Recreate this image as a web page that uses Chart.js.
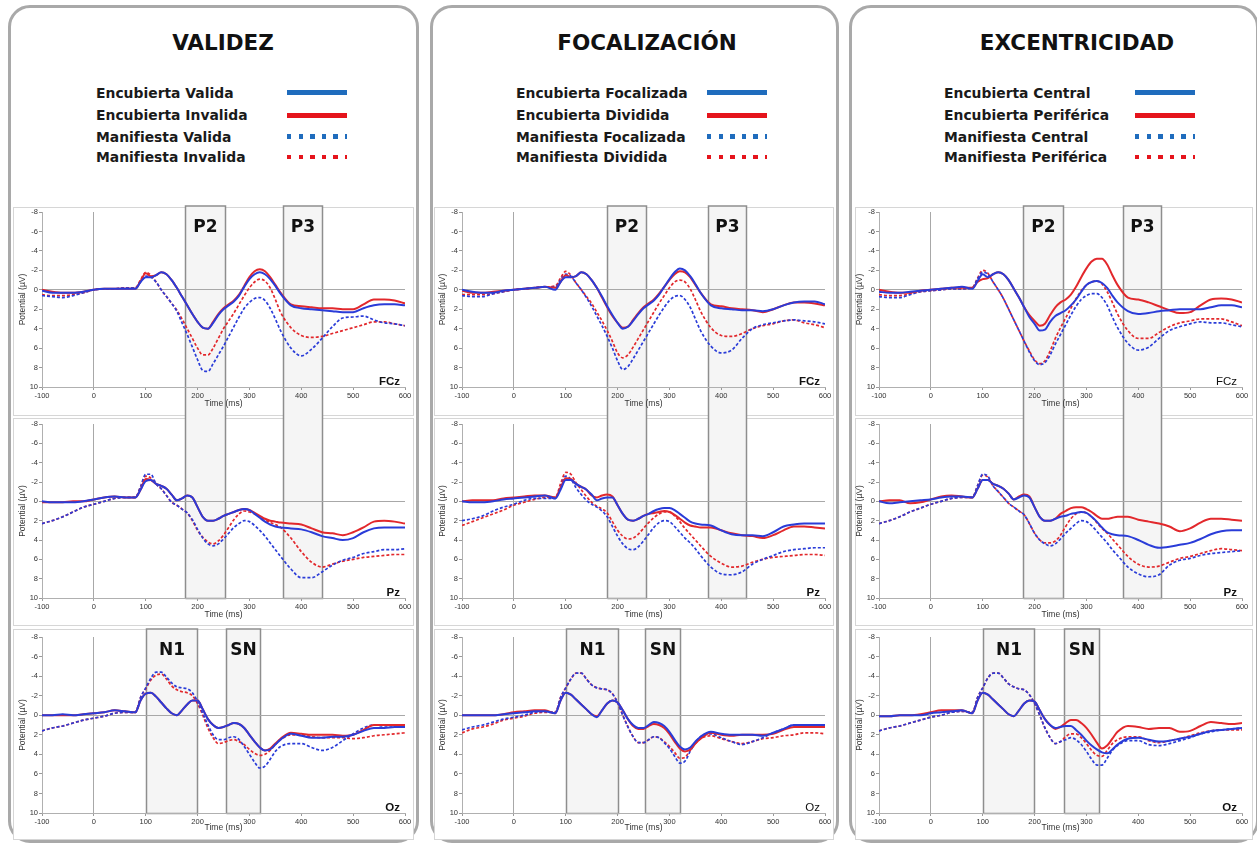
<!DOCTYPE html>
<html lang="es">
<head>
<meta charset="utf-8">
<title>ERP - Validez, Focalización, Excentricidad</title>
<script src="https://cdn.jsdelivr.net/npm/chart.js@4.4.1/dist/chart.umd.min.js"></script>
<style>
  html, body { margin: 0; padding: 0; background: #fff; }
  body { width: 1257px; height: 845px; position: relative; overflow: hidden; font-family: "DejaVu Sans", Verdana, sans-serif; }
  .frame { position: absolute; top: 5px; height: 838px; border: 3px solid #a9a9a9; border-radius: 22px; box-sizing: border-box; background: #fff; }
  .title { position: absolute; top: 28px; height: 30px; line-height: 30px; font-weight: bold; font-size: 21.5px; color: #111; transform: translateX(-50%); white-space: nowrap; }
  .leg-text { position: absolute; height: 20px; line-height: 20px; font-weight: bold; font-size: 13.9px; color: #1a1a1a; white-space: nowrap; }
  .swatch { position: absolute; width: 60px; height: 5px; }
  .box { position: absolute; border: 1px solid #d6d6d6; box-sizing: border-box; background: #fff; }
  canvas.erp { position: absolute; }
</style>
</head>
<body>
<script>
// Time axis shared by every waveform (ms)
const times = [-100,-80,-60,-40,-20,0,20,40,60,80,
  90,100,110,120,130,140,150,160,170,180,190,200,
  210,220,230,240,250,260,270,280,290,300,
  310,320,330,340,350,360,
  380,400,420,440,460,480,500,520,540,560,580,600];

const xTicks = [-100,0,100,200,300,400,500,600];
const yTicks = [-8,-6,-4,-2,0,2,4,6,8,10];

// Legend labels
const labelsValidez = ['Encubierta Valida','Encubierta Invalida','Manifiesta Valida','Manifiesta Invalida'];
const labelsFocal = ['Encubierta Focalizada','Encubierta Dividida','Manifiesta Focalizada','Manifiesta Dividida'];
const labelsExc = ['Encubierta Central','Encubierta Periférica','Manifiesta Central','Manifiesta Periférica'];

// ---------- VALIDEZ ----------
const valFCzEncV = [0.1,0.3,0.3,0.3,0.2,0.0,-0.1,-0.1,-0.1,-0.1,
  -0.8,-1.3,-1.3,-1.5,-1.8,-1.6,-1.0,-0.2,0.7,1.6,2.5,3.3,
  3.9,4.0,3.4,2.6,2.0,1.6,1.2,0.6,-0.3,-1.1,
  -1.6,-1.8,-1.6,-1.1,-0.4,0.4,
  1.6,1.9,2.0,2.1,2.2,2.3,2.3,1.9,1.6,1.5,1.5,1.6];
const valFCzEncI = [0.0,0.2,0.3,0.3,0.2,0.0,-0.1,-0.1,-0.1,-0.1,
  -0.9,-1.7,-1.4,-1.5,-1.8,-1.6,-1.0,-0.2,0.7,1.6,2.5,3.3,
  3.9,4.0,3.3,2.5,1.9,1.5,1.1,0.5,-0.4,-1.3,
  -1.9,-2.1,-1.9,-1.3,-0.5,0.3,
  1.5,1.7,1.8,1.9,1.9,2.0,2.0,1.5,1.0,1.0,1.1,1.4];
const valFCzManV = [0.6,0.7,0.8,0.6,0.3,0.0,-0.1,-0.1,-0.2,-0.2,
  -0.8,-1.4,-1.3,-0.8,0.0,0.7,1.4,2.2,3.4,4.6,5.9,7.2,
  8.3,8.4,7.6,6.7,5.8,4.8,3.8,2.8,1.9,1.3,
  0.9,0.8,1.1,1.9,3.0,4.2,
  6.0,6.8,6.1,5.0,3.8,2.9,2.8,2.7,3.1,3.4,3.5,3.7];
const valFCzManI = [0.5,0.6,0.6,0.5,0.3,0.0,-0.1,-0.1,-0.2,-0.2,
  -1.0,-1.8,-1.5,-0.8,0.0,0.7,1.4,2.1,3.0,4.0,5.0,6.0,
  6.7,6.7,6.0,5.0,4.0,3.2,2.4,1.5,0.6,-0.2,
  -0.8,-1.1,-0.9,-0.2,1.0,2.3,
  3.9,4.7,4.9,4.8,4.5,4.2,3.9,3.6,3.3,3.3,3.5,3.7];

const valPzEncV = [0.0,0.1,0.1,0.1,0.0,-0.2,-0.4,-0.5,-0.4,-0.4,
  -1.2,-2.1,-2.2,-1.8,-1.6,-1.3,-0.7,-0.1,-0.3,-0.6,-0.4,0.6,
  1.6,2.0,2.0,1.8,1.5,1.3,1.1,0.9,0.8,0.9,
  1.3,1.7,2.1,2.4,2.6,2.7,
  2.8,2.9,3.2,3.6,3.8,4.0,3.8,3.2,2.8,2.7,2.7,2.7];
const valPzEncI = [0.1,0.1,0.1,0.0,0.0,-0.2,-0.4,-0.5,-0.4,-0.4,
  -1.2,-2.3,-2.2,-1.8,-1.6,-1.3,-0.7,-0.1,-0.3,-0.6,-0.4,0.6,
  1.6,2.0,2.0,1.8,1.5,1.3,1.1,0.9,0.8,0.9,
  1.2,1.5,1.8,2.0,2.1,2.2,
  2.3,2.4,2.8,3.2,3.3,3.5,3.2,2.7,2.1,2.0,2.1,2.3];
const valPzManV = [2.3,2.0,1.6,1.1,0.6,0.3,0.0,-0.3,-0.4,-0.4,
  -1.5,-2.8,-2.8,-1.8,-1.3,-0.6,0.1,0.4,0.8,1.2,1.9,2.9,
  3.8,4.4,4.6,4.4,3.9,3.3,2.7,2.3,2.0,2.1,
  2.5,3.0,3.6,4.3,5.0,5.7,
  7.0,7.9,7.9,7.3,6.6,6.1,5.8,5.4,5.2,5.0,5.0,4.9];
const valPzManI = [2.3,2.0,1.6,1.1,0.6,0.3,0.0,-0.3,-0.4,-0.4,
  -1.5,-2.6,-2.4,-1.8,-1.3,-0.6,0.1,0.4,0.8,1.2,2.0,3.0,
  3.7,4.2,4.4,4.1,3.5,2.7,1.9,1.3,1.0,1.1,
  1.3,1.6,1.9,2.2,2.4,2.7,
  3.8,5.2,6.3,6.8,6.5,6.2,6.0,5.8,5.7,5.6,5.5,5.5];

const valOzEncV = [0.0,0.0,-0.1,0.0,-0.1,-0.2,-0.3,-0.5,-0.4,-0.3,
  -1.5,-2.2,-2.3,-1.9,-1.3,-0.7,-0.2,0.0,-0.5,-1.1,-1.5,-1.5,
  -0.6,0.4,1.0,1.3,1.2,1.0,0.8,0.9,1.3,2.0,
  2.7,3.3,3.6,3.5,3.0,2.5,
  1.9,2.1,2.3,2.3,2.2,2.2,2.0,1.6,1.3,1.3,1.2,1.2];
const valOzEncI = [0.0,0.0,0.0,0.0,-0.1,-0.2,-0.3,-0.5,-0.4,-0.3,
  -1.5,-2.2,-2.3,-1.9,-1.3,-0.7,-0.2,0.0,-0.5,-1.1,-1.5,-1.5,
  -0.6,0.4,1.0,1.3,1.2,1.0,0.8,0.9,1.3,2.0,
  2.7,3.3,3.6,3.4,2.9,2.4,
  1.8,1.9,2.0,2.0,2.0,2.1,2.0,1.5,1.0,1.0,1.0,1.0];
const valOzManV = [1.6,1.3,1.1,0.8,0.5,0.3,0.1,-0.2,-0.3,-0.3,
  -1.8,-2.8,-3.8,-4.4,-4.4,-3.9,-3.3,-2.9,-2.8,-2.7,-2.3,-1.4,
  -0.2,1.0,2.0,2.5,2.5,2.3,2.2,2.5,3.2,4.0,
  4.8,5.4,5.2,4.5,3.7,3.2,
  2.9,2.9,3.3,3.6,3.3,2.6,1.9,1.3,1.0,1.1,1.1,1.2];
const valOzManI = [1.6,1.3,1.1,0.8,0.5,0.3,0.1,-0.2,-0.3,-0.3,
  -1.8,-2.7,-3.6,-4.1,-4.2,-3.7,-3.0,-2.6,-2.4,-2.3,-2.0,-1.2,
  0.0,1.3,2.3,2.9,2.8,2.6,2.5,2.7,3.0,3.5,
  3.9,4.1,4.0,3.6,3.0,2.5,
  2.0,2.0,2.2,2.3,2.3,2.3,2.4,2.3,2.1,2.0,1.9,1.8];

// ---------- FOCALIZACIÓN ----------
const focFCzEncF = [0.0,0.2,0.3,0.3,0.1,0.0,-0.1,-0.2,-0.3,0.0,
  -0.8,-1.3,-1.3,-1.4,-1.8,-1.6,-1.0,-0.2,0.7,1.7,2.6,3.4,
  4.0,3.8,3.2,2.5,1.9,1.5,1.1,0.5,-0.3,-1.1,
  -1.8,-2.2,-2.0,-1.4,-0.6,0.3,
  1.6,1.9,2.0,2.1,2.1,2.2,2.0,1.6,1.3,1.2,1.2,1.5];
const focFCzEncD = [0.1,0.3,0.3,0.2,0.1,0.0,-0.1,-0.2,-0.3,-0.2,
  -0.8,-1.5,-1.3,-1.4,-1.8,-1.6,-1.0,-0.2,0.8,1.8,2.7,3.4,
  3.9,3.8,3.1,2.4,1.8,1.4,1.0,0.4,-0.3,-1.0,
  -1.6,-1.9,-1.8,-1.3,-0.5,0.3,
  1.5,1.7,1.9,2.0,2.1,2.3,2.0,1.6,1.3,1.3,1.4,1.6];
const focFCzManF = [0.6,0.7,0.7,0.4,0.2,0.0,-0.1,-0.2,-0.3,-0.3,
  -1.0,-1.6,-1.4,-0.7,0.0,0.8,1.7,2.7,3.7,4.8,6.0,7.3,
  8.2,7.9,7.1,6.2,5.3,4.4,3.5,2.6,1.8,1.1,
  0.7,0.6,1.0,1.8,3.0,4.2,
  5.8,6.5,6.2,5.0,4.0,3.6,3.4,3.2,3.1,3.2,3.3,3.5];
const focFCzManD = [0.5,0.5,0.5,0.4,0.2,0.0,-0.1,-0.2,-0.3,-0.4,
  -1.2,-1.9,-1.5,-0.7,0.0,0.7,1.4,2.3,3.2,4.2,5.3,6.5,
  7.0,6.7,5.9,5.0,4.1,3.2,2.3,1.4,0.6,-0.2,
  -0.8,-1.0,-0.8,-0.1,1.0,2.2,
  3.9,4.7,4.8,4.5,4.0,3.7,3.5,3.2,3.1,3.4,3.6,3.9];

const focPzEncF = [0.0,0.1,0.1,0.0,-0.2,-0.3,-0.4,-0.5,-0.6,-0.3,
  -1.2,-2.2,-2.2,-1.8,-1.5,-1.2,-0.7,-0.1,-0.3,-0.4,-0.4,0.4,
  1.3,1.9,2.0,1.8,1.5,1.3,1.0,0.8,0.7,0.7,
  0.9,1.3,1.7,2.1,2.3,2.4,
  2.5,3.0,3.4,3.5,3.5,3.6,3.2,2.6,2.4,2.3,2.3,2.3];
const focPzEncD = [0.0,-0.1,-0.1,-0.1,-0.3,-0.4,-0.5,-0.6,-0.6,-0.4,
  -1.4,-2.4,-2.3,-1.8,-1.5,-1.2,-0.6,-0.4,-0.6,-0.7,-0.5,0.4,
  1.3,1.9,2.0,1.8,1.5,1.3,1.2,1.1,1.0,1.1,
  1.4,1.8,2.2,2.5,2.6,2.7,
  2.7,3.0,3.3,3.5,3.6,3.8,3.5,3.0,2.6,2.6,2.7,2.8];
const focPzManF = [2.0,1.8,1.5,1.0,0.6,0.3,-0.1,-0.3,-0.3,-0.3,
  -1.5,-2.6,-2.3,-1.4,-0.7,-0.1,0.3,0.6,1.0,1.6,2.6,3.6,
  4.4,4.9,5.0,4.7,4.1,3.4,2.7,2.2,2.0,2.1,
  2.6,3.2,3.8,4.3,4.9,5.6,
  6.8,7.5,7.6,7.3,6.5,6.0,5.6,5.2,5.0,4.9,4.8,4.8];
const focPzManD = [2.5,2.1,1.7,1.3,0.9,0.4,0.1,-0.2,-0.4,-0.4,
  -1.8,-3.0,-2.8,-1.9,-1.2,-0.5,0.1,0.5,0.8,1.2,2.1,3.0,
  3.6,3.9,3.8,3.4,2.8,2.2,1.7,1.3,1.1,1.1,
  1.5,2.1,2.8,3.4,4.0,4.6,
  5.7,6.4,6.8,6.7,6.3,6.0,5.8,5.7,5.6,5.5,5.5,5.6];

const focOzEncF = [0.0,0.0,0.0,0.0,-0.1,-0.2,-0.3,-0.4,-0.4,-0.2,
  -1.5,-2.3,-2.1,-1.6,-1.1,-0.6,-0.1,0.2,-0.5,-1.2,-1.5,-1.3,
  -0.5,0.4,1.0,1.3,1.3,1.0,0.7,0.8,1.1,1.7,
  2.5,3.2,3.5,3.3,2.7,2.2,
  1.7,1.9,2.0,2.0,2.0,2.1,1.8,1.4,1.0,1.0,1.0,1.0];
const focOzEncD = [0.0,0.0,0.0,0.0,-0.1,-0.3,-0.4,-0.5,-0.5,-0.2,
  -1.5,-2.3,-2.1,-1.6,-1.1,-0.6,-0.1,0.1,-0.5,-1.2,-1.5,-1.3,
  -0.5,0.4,1.1,1.4,1.4,1.1,0.9,1.0,1.3,1.9,
  2.7,3.4,3.7,3.5,2.9,2.4,
  1.8,2.0,2.1,2.0,2.0,2.0,1.9,1.5,1.2,1.2,1.2,1.2];
const focOzManF = [1.5,1.2,1.0,0.7,0.4,0.2,0.0,-0.3,-0.4,-0.3,
  -1.8,-2.8,-3.7,-4.3,-4.3,-3.7,-3.1,-2.8,-2.7,-2.6,-2.2,-1.3,
  0.0,1.2,2.2,2.8,2.8,2.5,2.2,2.3,2.8,3.4,
  4.2,4.9,4.7,3.7,2.8,2.2,
  1.9,2.3,2.7,3.0,2.7,2.3,1.8,1.4,1.0,1.0,1.0,1.0];
const focOzManD = [1.8,1.4,1.2,0.9,0.5,0.3,0.1,-0.2,-0.3,-0.3,
  -1.8,-2.8,-3.7,-4.3,-4.3,-3.7,-3.1,-2.8,-2.7,-2.6,-2.2,-1.3,
  0.0,1.2,2.2,2.8,2.8,2.5,2.2,2.3,2.7,3.2,
  3.8,4.4,4.3,3.6,2.9,2.4,
  2.1,2.4,2.7,2.9,2.7,2.4,2.3,2.1,2.0,1.8,1.8,1.9];

// ---------- EXCENTRICIDAD ----------
const excFCzEncC = [0.2,0.3,0.3,0.2,0.1,0.0,-0.1,-0.2,-0.3,-0.1,
  -0.9,-1.6,-1.3,-1.6,-1.8,-1.6,-1.0,-0.1,0.8,1.8,2.8,3.5,
  4.2,4.1,3.3,2.7,2.4,2.1,1.6,1.0,0.2,-0.5,
  -0.8,-0.9,-0.7,-0.2,0.6,1.3,
  2.2,2.5,2.4,2.2,2.1,2.0,2.0,2.0,1.8,1.6,1.6,1.8];
const excFCzEncP = [0.0,0.2,0.3,0.3,0.1,0.0,-0.1,-0.2,-0.2,-0.2,
  -0.8,-1.1,-1.2,-1.6,-1.8,-1.6,-1.0,-0.1,0.8,1.8,2.6,3.2,
  3.7,3.5,2.6,1.8,1.3,1.0,0.5,-0.3,-1.3,-2.2,
  -2.9,-3.2,-3.2,-2.6,-1.5,-0.5,
  0.8,1.0,1.3,1.7,2.1,2.4,2.3,1.6,1.0,0.9,1.0,1.3];
const excFCzManC = [0.7,0.8,0.8,0.5,0.2,0.1,0.0,-0.1,-0.1,-0.2,
  -1.1,-1.8,-1.6,-0.8,0.0,0.9,2.0,3.1,4.2,5.3,6.4,7.3,
  7.7,7.5,6.7,5.6,4.6,3.6,2.6,1.7,1.0,0.6,
  0.4,0.4,0.8,1.6,2.8,3.9,
  5.5,6.2,5.9,5.0,4.2,3.8,3.5,3.3,3.4,3.4,3.6,3.8];
const excFCzManP = [0.5,0.6,0.6,0.4,0.2,0.1,0.0,-0.1,-0.1,-0.2,
  -1.2,-2.0,-1.7,-0.8,0.0,0.9,2.0,3.1,4.2,5.3,6.3,7.2,
  7.6,7.3,6.3,5.0,3.9,2.9,1.9,0.9,0.1,-0.5,
  -0.8,-0.9,-0.6,0.2,1.3,2.5,
  4.2,5.0,5.0,4.4,3.8,3.4,3.2,3.0,3.0,3.0,3.3,3.7];

const excPzEncC = [0.0,0.2,0.1,0.0,-0.1,-0.2,-0.4,-0.5,-0.5,-0.4,
  -1.3,-2.2,-2.2,-1.8,-1.6,-1.3,-0.8,-0.2,-0.4,-0.6,-0.4,0.6,
  1.6,2.0,2.0,1.8,1.6,1.5,1.3,1.2,1.1,1.2,
  1.6,2.1,2.7,3.2,3.4,3.5,
  3.6,4.0,4.5,4.8,4.7,4.5,4.3,3.9,3.4,3.1,3.0,3.0];
const excPzEncP = [0.0,-0.1,-0.1,0.2,0.1,-0.2,-0.5,-0.6,-0.5,-0.4,
  -1.3,-2.2,-2.2,-1.8,-1.6,-1.3,-0.8,-0.2,-0.5,-0.7,-0.5,0.6,
  1.6,2.0,2.0,1.8,1.3,1.0,0.7,0.6,0.6,0.8,
  1.1,1.5,1.8,1.8,1.7,1.6,
  1.6,1.9,2.1,2.3,2.6,3.1,2.8,2.2,1.8,1.8,1.9,2.0];
const excPzManC = [2.3,2.0,1.6,1.1,0.7,0.3,0.0,-0.3,-0.4,-0.4,
  -1.6,-2.8,-2.6,-1.6,-1.0,-0.4,0.2,0.6,1.0,1.4,2.3,3.3,
  4.0,4.4,4.6,4.4,3.9,3.3,2.8,2.3,2.0,2.1,
  2.5,3.1,3.7,4.3,5.0,5.6,
  6.8,7.5,7.8,7.6,6.6,6.1,5.9,5.6,5.4,5.3,5.2,5.1];
const excPzManP = [2.3,2.0,1.6,1.1,0.7,0.3,0.0,-0.3,-0.4,-0.4,
  -1.6,-2.7,-2.5,-1.6,-1.0,-0.4,0.2,0.6,1.0,1.4,2.3,3.3,
  4.0,4.3,4.3,4.1,3.5,2.6,1.8,1.3,1.1,1.2,
  1.6,2.2,2.8,3.3,3.9,4.5,
  5.7,6.5,6.8,6.7,6.3,5.9,5.7,5.4,5.1,4.9,5.0,5.1];

const excOzEncC = [0.1,0.1,0.0,0.0,0.0,-0.2,-0.3,-0.4,-0.5,-0.2,
  -1.5,-2.3,-2.1,-1.6,-1.1,-0.6,-0.1,0.1,-0.5,-1.2,-1.5,-1.4,
  -0.5,0.4,1.0,1.3,1.2,1.1,1.1,1.5,2.0,2.6,
  3.1,3.5,3.8,3.9,3.5,3.0,
  2.4,2.3,2.5,2.7,2.6,2.4,2.2,1.9,1.6,1.5,1.4,1.3];
const excOzEncP = [0.1,0.1,0.0,0.0,-0.1,-0.3,-0.5,-0.5,-0.5,-0.2,
  -1.5,-2.3,-2.1,-1.6,-1.1,-0.6,-0.1,0.1,-0.5,-1.2,-1.5,-1.4,
  -0.5,0.4,1.0,1.4,1.2,0.8,0.5,0.5,0.8,1.3,
  2.0,2.8,3.4,3.1,2.4,1.7,
  1.1,1.2,1.4,1.3,1.3,1.7,1.6,1.1,0.7,0.8,0.9,0.8];
const excOzManC = [1.6,1.3,1.1,0.8,0.5,0.2,0.0,-0.3,-0.4,-0.3,
  -1.8,-2.8,-3.8,-4.3,-4.3,-3.8,-3.2,-2.9,-2.7,-2.6,-2.1,-1.2,
  0.0,1.3,2.3,2.9,2.7,2.5,2.3,2.5,3.0,3.7,
  4.5,5.1,5.1,4.4,3.6,3.1,
  2.6,2.6,3.0,3.1,2.9,2.6,2.3,1.9,1.7,1.5,1.4,1.3];
const excOzManP = [1.6,1.3,1.1,0.8,0.5,0.2,0.0,-0.3,-0.4,-0.3,
  -1.8,-2.8,-3.8,-4.3,-4.3,-3.8,-3.2,-2.9,-2.7,-2.6,-2.1,-1.2,
  0.0,1.3,2.3,2.9,2.7,2.2,1.9,1.9,2.3,2.9,
  3.6,4.1,4.2,3.6,2.9,2.5,
  2.2,2.2,2.6,2.8,2.6,2.4,2.1,1.8,1.6,1.5,1.5,1.5];

// ---------- page layout ----------
const lineBlue = '#2a3cd8';
const lineRed = '#e2282c';
const legendBlue = '#1f6cbd';
const legendRed = '#e5141c';

const panels = [
  { title: 'VALIDEZ', titleX: 223, frame: [8, 419], box: [13, 414], plotLeft: 42.4,
    legendX: 96, swatchX: 287, labels: labelsValidez,
    p2: [176, 252], p3: [364, 439], n1: [100, 198], sn: [254, 320],
    channels: [
      { name: 'FCz', bold: true, series: [valFCzEncV, valFCzEncI, valFCzManV, valFCzManI] },
      { name: 'Pz', bold: true, series: [valPzEncV, valPzEncI, valPzManV, valPzManI] },
      { name: 'Oz', bold: true, series: [valOzEncV, valOzEncI, valOzManV, valOzManI] }
    ] },
  { title: 'FOCALIZACIÓN', titleX: 647, frame: [430, 839], box: [434, 834], plotLeft: 462.2,
    legendX: 516, swatchX: 707, labels: labelsFocal,
    p2: [180, 255], p3: [374, 447], n1: [101, 200], sn: [253, 321],
    channels: [
      { name: 'FCz', bold: true, series: [focFCzEncF, focFCzEncD, focFCzManF, focFCzManD] },
      { name: 'Pz', bold: true, series: [focPzEncF, focPzEncD, focPzManF, focPzManD] },
      { name: 'Oz', bold: false, series: [focOzEncF, focOzEncD, focOzManF, focOzManD] }
    ] },
  { title: 'EXCENTRICIDAD', titleX: 1077, frame: [849, 1259], box: [855, 1253], plotLeft: 878.8,
    legendX: 944, swatchX: 1135, labels: labelsExc,
    p2: [178, 254], p3: [370, 443], n1: [101, 199], sn: [256, 324],
    channels: [
      { name: 'FCz', bold: false, series: [excFCzEncC, excFCzEncP, excFCzManC, excFCzManP] },
      { name: 'Pz', bold: true, series: [excPzEncC, excPzEncP, excPzManC, excPzManP] },
      { name: 'Oz', bold: true, series: [excOzEncC, excOzEncP, excOzManC, excOzManP] }
    ] }
];

// rows: canvas top, canvas height, plot top padding, plot height; box top/bottom
const rows = [
  { top: 205, h: 211, pad: 7, plotH: 175, boxTop: 207, boxBottom: 416, mode: 'upper' },
  { top: 416, h: 211, pad: 8, plotH: 174, boxTop: 418, boxBottom: 626, mode: 'lower' },
  { top: 627, h: 213, pad: 10, plotH: 176, boxTop: 629, boxBottom: 840, mode: 'full' }
];
const legendRowsY = [92.5, 115, 136.5, 157];
const seriesColor = [lineBlue, lineRed, lineBlue, lineRed];
const seriesDash = [[], [], [3, 2], [3, 2]];
const swatchColor = [legendBlue, legendRed, legendBlue, legendRed];

// shaded latency windows + electrode name
const windowPlugin = {
  id: 'erpWindows',
  beforeDraw(chart, args, opts) {
    const { ctx, scales: { x }, chartArea } = chart;
    const H = chart.height;
    (opts.windows || []).forEach(w => {
      const x0 = Math.round(x.getPixelForValue(w.from)) + 0.5;
      const x1 = Math.round(x.getPixelForValue(w.to)) + 0.5;
      const top = opts.mode === 'lower' ? 0 : opts.top;
      const bottom = opts.mode === 'upper' ? H : Math.round(chartArea.bottom) + 0.5;
      ctx.save();
      ctx.fillStyle = '#f5f5f5';
      ctx.fillRect(x0, top, x1 - x0, bottom - top);
      ctx.strokeStyle = '#8e8e8e';
      ctx.lineWidth = 1.5;
      ctx.beginPath();
      ctx.moveTo(x0, bottom);
      ctx.lineTo(x0, top);
      if (opts.mode === 'lower') ctx.moveTo(x1, top); else ctx.lineTo(x1, top);
      ctx.lineTo(x1, bottom);
      if (opts.mode !== 'upper') ctx.lineTo(x0, bottom);
      ctx.stroke();
      if (w.label) {
        ctx.fillStyle = '#111';
        ctx.font = 'bold 17px "DejaVu Sans", Verdana, sans-serif';
        ctx.textAlign = 'center';
        ctx.textBaseline = 'middle';
        ctx.fillText(w.label, (x0 + x1) / 2, opts.labelY);
      }
      ctx.restore();
    });
  },
  afterDatasetsDraw(chart, args, opts) {
    const { ctx, chartArea } = chart;
    ctx.save();
    ctx.fillStyle = '#111';
    ctx.font = (opts.channelBold ? 'bold ' : '') + '11.5px "Liberation Sans", Arial, sans-serif';
    ctx.textAlign = 'right';
    ctx.textBaseline = 'alphabetic';
    ctx.fillText(opts.channel, chartArea.right - 5, chartArea.bottom - 2);
    ctx.restore();
  }
};

function el(tag, cls, style, text) {
  const e = document.createElement(tag);
  if (cls) e.className = cls;
  Object.assign(e.style, style || {});
  if (text != null) e.textContent = text;
  document.body.appendChild(e);
  return e;
}

const tickFont = { family: '"Liberation Sans", Arial, sans-serif', size: 7.5 };
const titleFont = { family: '"Liberation Sans", Arial, sans-serif', size: 8.5 };

panels.forEach(p => {
  el('div', 'frame', { left: p.frame[0] + 'px', width: (p.frame[1] - p.frame[0]) + 'px' });
  el('div', 'title', { left: p.titleX + 'px' }, p.title);

  p.labels.forEach((lab, i) => {
    el('div', 'leg-text', { left: p.legendX + 'px', top: (legendRowsY[i] - 10) + 'px' }, lab);
    const sw = el('div', 'swatch', { left: p.swatchX + 'px', top: (legendRowsY[i] - 2.5) + 'px' });
    if (i < 2) {
      sw.style.background = swatchColor[i];
    } else {
      sw.style.height = '4.5px';
      sw.style.background = `repeating-linear-gradient(90deg, ${swatchColor[i]} 0 4.3px, transparent 4.3px 11.6px)`;
    }
  });

  p.channels.forEach((ch, r) => {
    const row = rows[r];
    el('div', 'box', { left: p.box[0] + 'px', width: (p.box[1] - p.box[0]) + 'px',
      top: row.boxTop + 'px', height: (row.boxBottom - row.boxTop) + 'px' });

    const canvasLeft = Math.round(p.plotLeft - 30);
    const cv = el('canvas', 'erp', { left: canvasLeft + 'px', top: row.top + 'px' });
    cv.width = 402; cv.height = row.h;
    cv.style.width = '402px'; cv.style.height = row.h + 'px';

    const xH = row.h - row.pad - row.plotH;
    let windows;
    if (r < 2) {
      windows = [{ from: p.p2[0], to: p.p2[1], label: r === 0 ? 'P2' : null },
                 { from: p.p3[0], to: p.p3[1], label: r === 0 ? 'P3' : null }];
    } else {
      windows = [{ from: p.n1[0], to: p.n1[1], label: 'N1' },
                 { from: p.sn[0], to: p.sn[1], label: 'SN' }];
    }

    new Chart(cv, {
      type: 'line',
      data: {
        datasets: ch.series.map((vals, i) => ({
          label: p.labels[i],
          data: vals.map((v, k) => ({ x: times[k], y: v })),
          borderColor: seriesColor[i],
          borderWidth: i < 2 ? 2 : 1.7,
          borderDash: seriesDash[i],
          pointRadius: 0,
          fill: false,
          cubicInterpolationMode: 'monotone'
        }))
      },
      options: {
        responsive: false,
        animation: false,
        devicePixelRatio: 1,
        layout: { padding: { top: row.pad, right: 9, left: 0, bottom: 0 } },
        scales: {
          x: {
            type: 'linear', min: -100, max: 600,
            afterBuildTicks: s => { s.ticks = xTicks.map(v => ({ value: v })); },
            afterFit: s => { s.height = xH; },
            ticks: { font: tickFont, color: '#333', padding: 1, maxRotation: 0, autoSkip: false },
            grid: {
              color: c => (c.tick && c.tick.value === 0) ? '#a8a8a8' : 'rgba(0,0,0,0)',
              tickColor: '#9a9a9a', tickLength: 3, lineWidth: 1
            },
            border: { display: true, color: '#b0b0b0' },
            title: { display: true, text: 'Time (ms)', font: titleFont, color: '#333', padding: { top: 0, bottom: 7 } }
          },
          y: {
            reverse: true, min: -8, max: 10,
            afterBuildTicks: s => { s.ticks = yTicks.map(v => ({ value: v })); },
            afterFit: s => { s.width = 30; },
            ticks: { font: tickFont, color: '#333', padding: 1 },
            grid: {
              color: c => (c.tick && c.tick.value === 0) ? '#a8a8a8' : 'rgba(0,0,0,0)',
              tickColor: '#9a9a9a', tickLength: 3, lineWidth: 1
            },
            border: { display: true, color: '#b0b0b0' },
            title: { display: true, text: 'Potential (µV)', font: titleFont, color: '#333', padding: { top: 6, bottom: 0 } }
          }
        },
        plugins: {
          legend: { display: false },
          tooltip: { enabled: false },
          erpWindows: {
            windows, mode: row.mode, top: r === 0 ? 1 : 2,
            labelY: r === 0 ? 23 : 24,
            channel: ch.name, channelBold: ch.bold
          }
        }
      },
      plugins: [windowPlugin]
    });
  });
});
</script>
</body>
</html>
